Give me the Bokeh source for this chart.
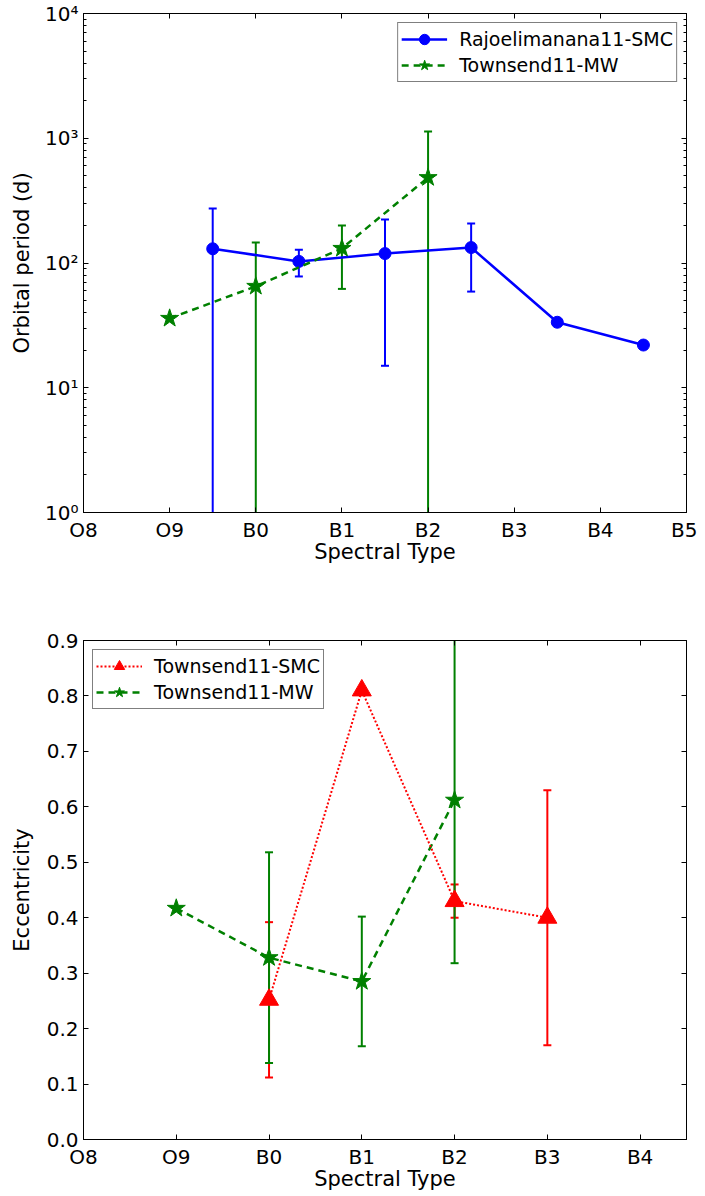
import numpy as np
from bokeh.plotting import figure
from bokeh.models import (ColumnDataSource, FixedTicker, LinearAxis, LogAxis,
                          Legend, LegendItem, CustomJSTickFormatter)
from bokeh.layouts import column
from bokeh.embed import file_html
from bokeh.resources import INLINE

nan = float("nan")

# ---------------- data ----------------
spectral_types = ["O8", "O9", "B0", "B1", "B2", "B3", "B4", "B5"]

# top panel: orbital period (d)
rs_x = [1.5, 2.5, 3.5, 4.5, 5.5, 6.5]
rs_period = [130, 103, 119, 133, 33.5, 22]
rs_period_err = [143, 25, 104, 74, nan, nan]

mw_x = [1, 2, 3, 4]
mw_period = [36, 65, 131, 484]
mw_period_err = [nan, 81, 69, 648]

# bottom panel: eccentricity
smc_x = [2, 3, 4, 5]
smc_ecc = [0.252, 0.81, 0.43, 0.40]
smc_ecc_err = [0.14, nan, 0.03, 0.23]

mw_ecc_x = [1, 2, 3, 4]
mw_ecc = [0.417, 0.328, 0.285, 0.612]
mw_ecc_err = [nan, 0.19, 0.117, 0.294]

ecc_ticks = [0.0, 0.1, 0.2, 0.3, 0.4, 0.5, 0.6, 0.7, 0.8, 0.9]
period_decades = [1, 10, 100, 1000, 10000]

FONT = "DejaVu Sans"
SUP = {"0": "⁰", "1": "¹", "2": "²", "3": "³", "4": "⁴"}


def style_axis(ax, show_labels=True):
    ax.axis_line_color = "black"
    ax.axis_line_width = 1
    ax.major_tick_line_color = "black"
    ax.minor_tick_line_color = "black"
    ax.major_tick_in = 5
    ax.major_tick_out = 0
    ax.minor_tick_in = 3
    ax.minor_tick_out = 0
    ax.major_label_text_font = FONT
    ax.major_label_text_font_size = "20px"
    ax.major_label_text_color = "black"
    ax.major_label_standoff = 5
    ax.axis_label_text_font = FONT
    ax.axis_label_text_font_size = "21px"
    ax.axis_label_text_font_style = "normal"
    ax.axis_label_text_color = "black"
    ax.axis_label_standoff = 2
    if not show_labels:
        ax.formatter = CustomJSTickFormatter(code="return ''")
        ax.major_label_text_font_size = "1px"
        ax.major_label_standoff = 0


def errorbars(p, x, y, err, color, width=2, log=False):
    y = np.asarray(y, dtype=float)
    err = np.asarray(err, dtype=float)
    ok = ~np.isnan(err)
    xs = [xx for xx, k in zip(x, ok) if k]
    lo = (y - err)[ok]
    hi = (y + err)[ok]
    if log:
        lo = np.where(lo > 0, lo, 1e-3)
    src = ColumnDataSource(dict(x=xs, lo=list(lo), hi=list(hi)))
    p.segment(x0="x", y0="lo", x1="x", y1="hi", source=src,
              line_color=color, line_width=width)
    p.scatter(x="x", y="hi", source=src, marker="dash", size=8,
              line_color=color, line_width=width)
    p.scatter(x="x", y="lo", source=src, marker="dash", size=8,
              line_color=color, line_width=width)


def style_legend(leg, loc):
    leg.location = loc
    leg.label_text_font = FONT
    leg.label_text_font_size = "19px"
    leg.label_text_color = "black"
    leg.border_line_color = "black"
    leg.border_line_width = 1
    leg.background_fill_color = "white"
    leg.background_fill_alpha = 1
    leg.padding = 3
    leg.margin = 9
    leg.spacing = 0
    leg.glyph_width = 46
    leg.glyph_height = 26
    leg.label_standoff = 12


# ---------------- top panel ----------------
p1 = figure(frame_width=603, frame_height=499, x_range=(0, 7), y_range=(1, 1e4),
            y_axis_type="log", output_backend="svg", toolbar_location=None,
            min_border_left=83, min_border_right=11, min_border_top=13,
            min_border_bottom=60, background_fill_color="white",
            border_fill_color="white", outline_line_color="black")
p1.grid.visible = False

log_minor = [m * d for d in period_decades[:-1] for m in range(2, 10)]

p1.xaxis.ticker = FixedTicker(ticks=list(range(len(spectral_types))), minor_ticks=[])
p1.xaxis.major_label_overrides = {i: s for i, s in enumerate(spectral_types)}
p1.xaxis.axis_label = "Spectral Type"
p1.yaxis.ticker = FixedTicker(ticks=period_decades, minor_ticks=log_minor)
p1.yaxis.major_label_overrides = {d: "10" + SUP[str(i)] for i, d in enumerate(period_decades)}
p1.yaxis.axis_label = "Orbital period (d)"
for ax in p1.xaxis + p1.yaxis:
    style_axis(ax)
p1.yaxis.axis_label_standoff = 8
p1.xaxis.axis_label_standoff = -5

top1 = LinearAxis(ticker=FixedTicker(ticks=list(range(len(spectral_types))), minor_ticks=[]))
style_axis(top1, show_labels=False)
p1.add_layout(top1, "above")
right1 = LogAxis(ticker=FixedTicker(ticks=period_decades, minor_ticks=log_minor))
style_axis(right1, show_labels=False)
p1.add_layout(right1, "right")

errorbars(p1, rs_x, rs_period, rs_period_err, "blue", log=True)
errorbars(p1, mw_x, mw_period, mw_period_err, "green", log=True)

rs_src = ColumnDataSource(dict(x=rs_x, y=rs_period))
mw_src = ColumnDataSource(dict(x=mw_x, y=mw_period))
r_rs_line = p1.line("x", "y", source=rs_src, line_color="blue", line_width=2.5)
r_rs_pts = p1.scatter("x", "y", source=rs_src, marker="circle", size=12,
                      fill_color="blue", line_color="blue")
r_mw_line = p1.line("x", "y", source=mw_src, line_color="green", line_width=2.5,
                    line_dash="7 5")
r_mw_pts = p1.scatter("x", "y", source=mw_src, marker="star", size=19,
                      fill_color="green", line_color="green")

leg1 = Legend(items=[
    LegendItem(label="Rajoelimanana11-SMC", renderers=[r_rs_line, r_rs_pts]),
    LegendItem(label="Townsend11-MW", renderers=[r_mw_line, r_mw_pts]),
])
style_legend(leg1, "top_right")
p1.add_layout(leg1)

# ---------------- bottom panel ----------------
p2 = figure(frame_width=603, frame_height=499, x_range=(0, 6.5), y_range=(0, 0.9),
            output_backend="svg", toolbar_location=None,
            min_border_left=83, min_border_right=11, min_border_top=68,
            min_border_bottom=52, background_fill_color="white",
            border_fill_color="white", outline_line_color="black")
p2.grid.visible = False

x_ticks2 = list(range(len(spectral_types) - 1))
p2.xaxis.ticker = FixedTicker(ticks=x_ticks2, minor_ticks=[])
p2.xaxis.major_label_overrides = {i: spectral_types[i] for i in x_ticks2}
p2.xaxis.axis_label = "Spectral Type"
p2.yaxis.ticker = FixedTicker(ticks=ecc_ticks, minor_ticks=[])
p2.yaxis.major_label_overrides = {t: f"{t:.1f}" for t in ecc_ticks}
p2.yaxis.axis_label = "Eccentricity"
for ax in p2.xaxis + p2.yaxis:
    style_axis(ax)
p2.yaxis.axis_label_standoff = 10
p2.xaxis.axis_label_standoff = -5

top2 = LinearAxis(ticker=FixedTicker(ticks=x_ticks2, minor_ticks=[]))
style_axis(top2, show_labels=False)
p2.add_layout(top2, "above")
right2 = LinearAxis(ticker=FixedTicker(ticks=ecc_ticks, minor_ticks=[]))
style_axis(right2, show_labels=False)
p2.add_layout(right2, "right")

errorbars(p2, smc_x, smc_ecc, smc_ecc_err, "red")
errorbars(p2, mw_ecc_x, mw_ecc, mw_ecc_err, "green")

smc_src = ColumnDataSource(dict(x=smc_x, y=smc_ecc))
mwe_src = ColumnDataSource(dict(x=mw_ecc_x, y=mw_ecc))
r_mwe_line = p2.line("x", "y", source=mwe_src, line_color="green", line_width=2.5,
                     line_dash="7 5")
r_mwe_pts = p2.scatter("x", "y", source=mwe_src, marker="star", size=19,
                       fill_color="green", line_color="green")
r_smc_line = p2.line("x", "y", source=smc_src, line_color="red", line_width=2,
                     line_dash="2 2")
r_smc_pts = p2.scatter("x", "y", source=smc_src, marker="triangle", size=19,
                       fill_color="red", line_color="red")

leg2 = Legend(items=[
    LegendItem(label="Townsend11-SMC", renderers=[r_smc_line, r_smc_pts]),
    LegendItem(label="Townsend11-MW", renderers=[r_mwe_line, r_mwe_pts]),
])
style_legend(leg2, "top_left")
p2.add_layout(leg2)

layout = column(p1, p2, spacing=0)
open("out.html", "w").write(file_html(layout, INLINE))
